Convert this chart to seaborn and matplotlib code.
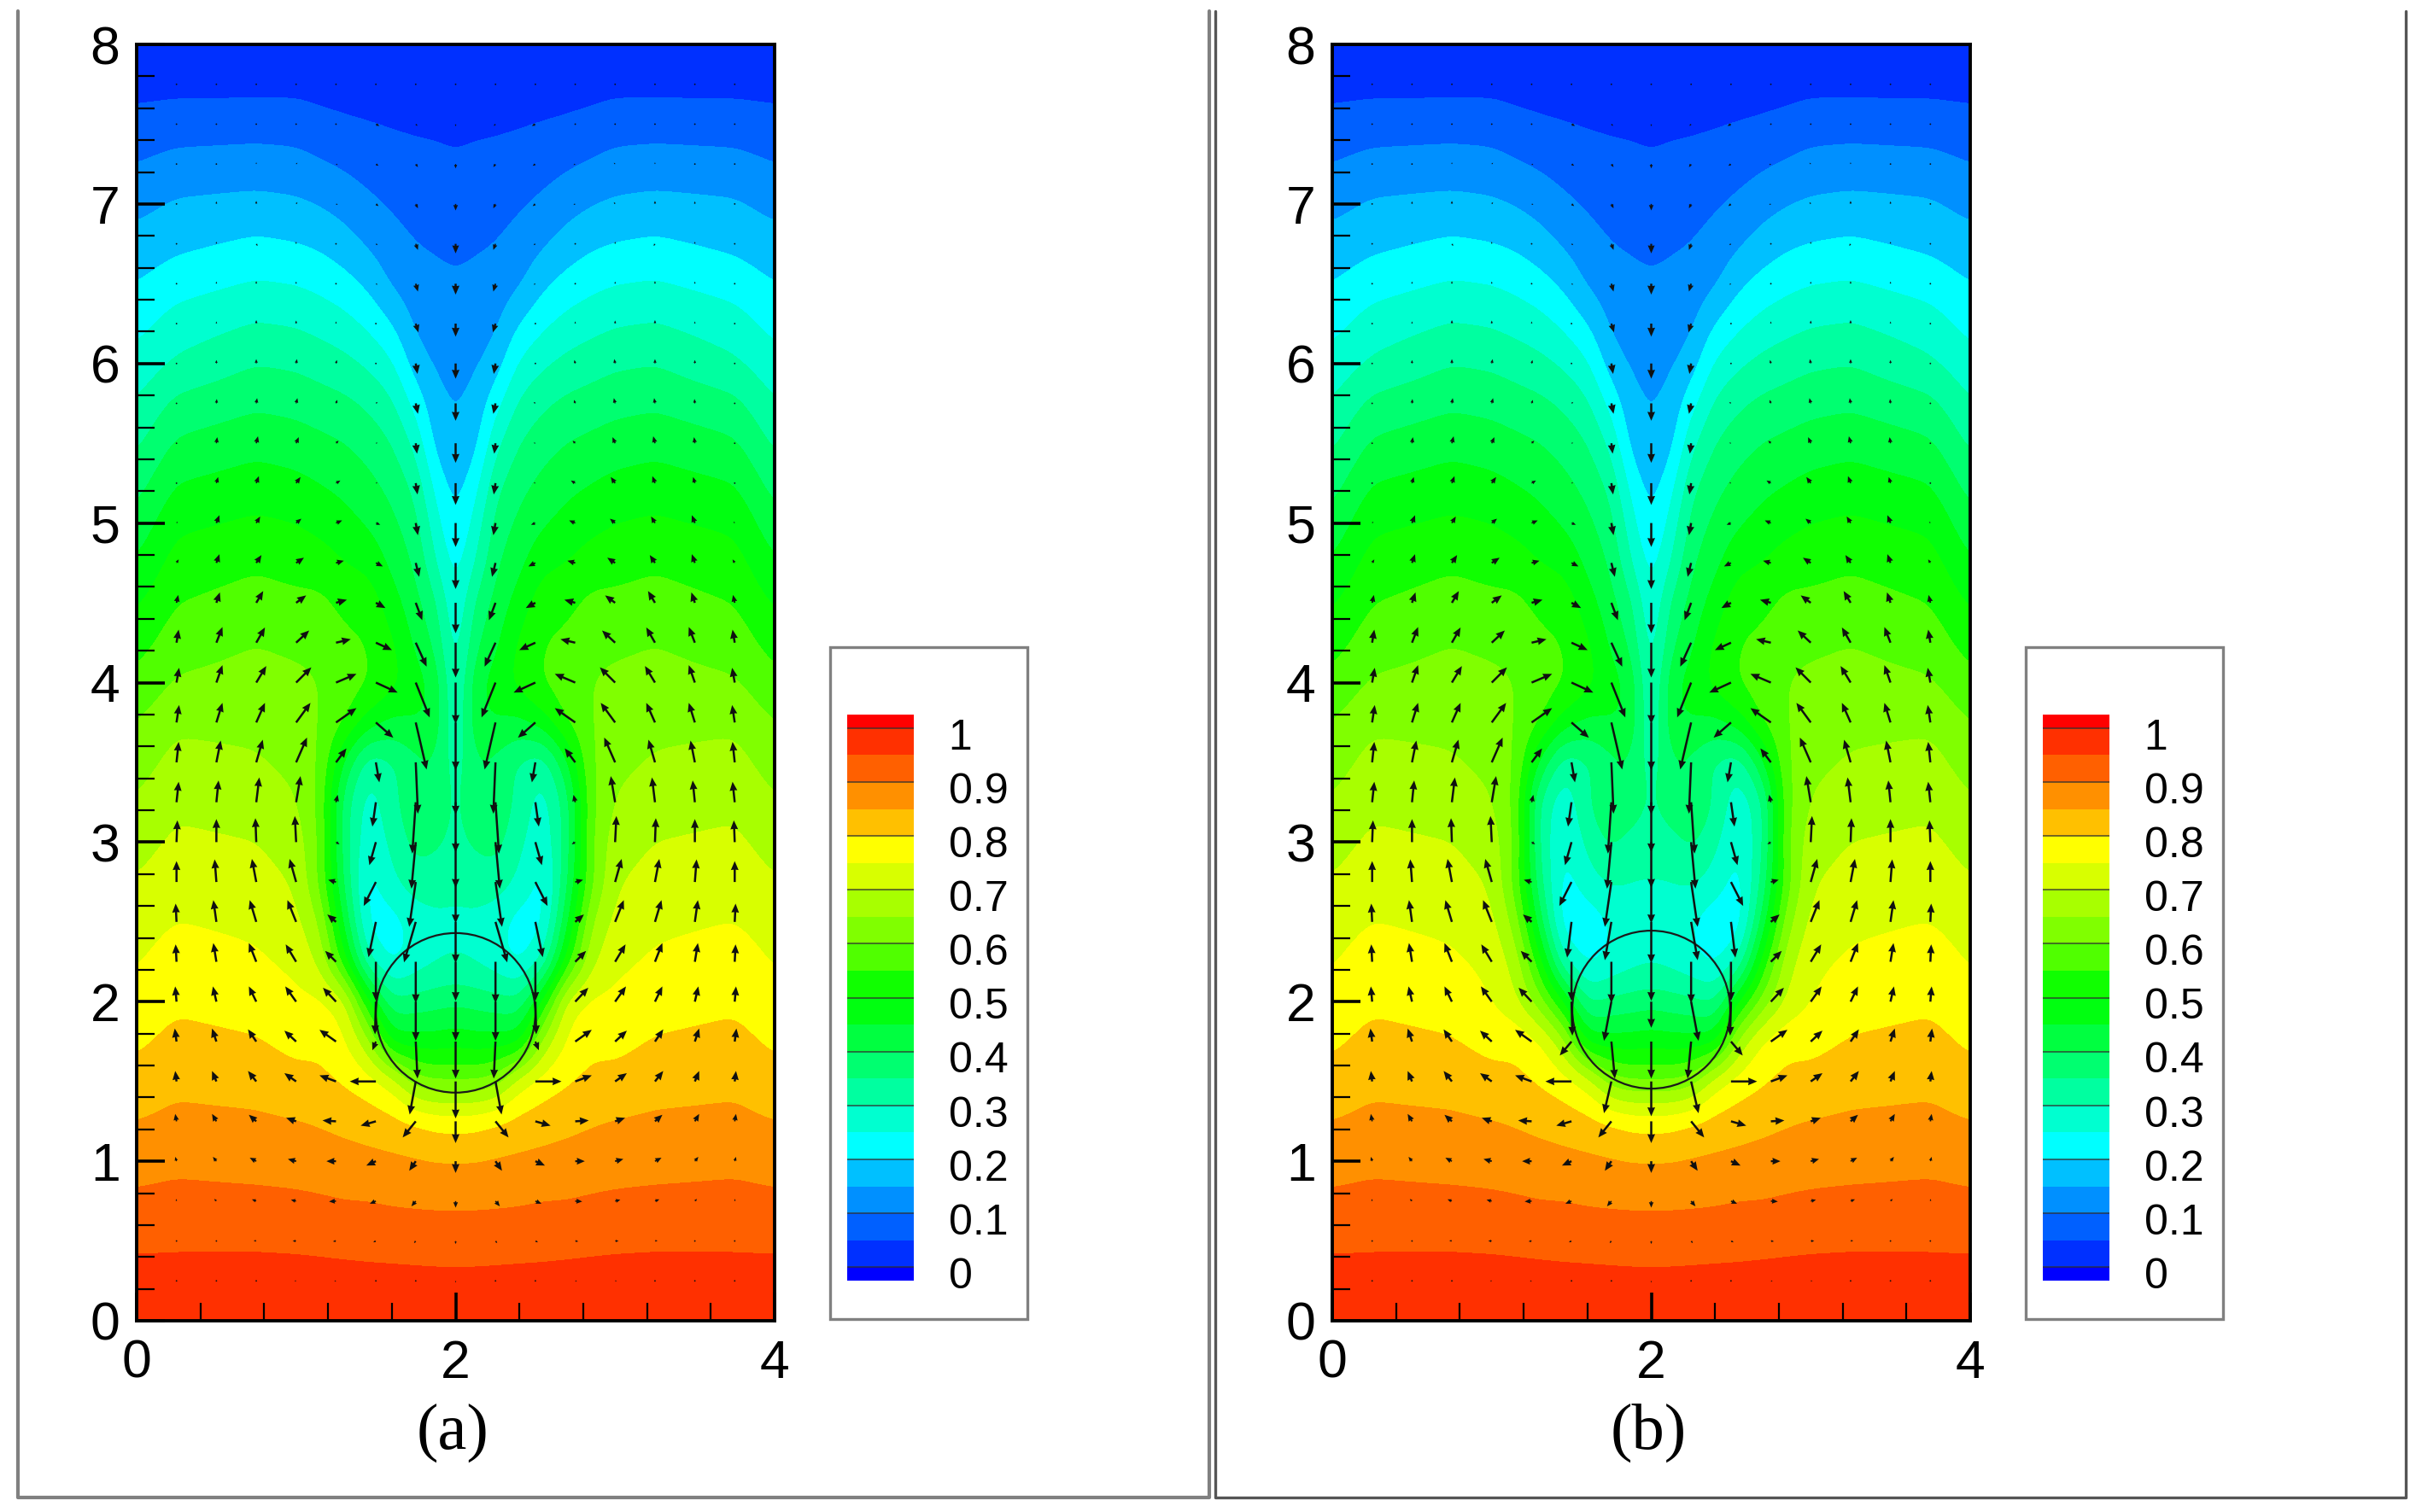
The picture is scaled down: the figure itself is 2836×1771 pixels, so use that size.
import numpy as np
import seaborn as sns
import matplotlib.pyplot as plt
from matplotlib.colors import ListedColormap, BoundaryNorm
from matplotlib.lines import Line2D
from matplotlib.patches import Circle, Rectangle
from matplotlib.ticker import MultipleLocator

W, H = 2836, 1771

# temperature, half domain (x 0..2), y from 8 down to 0
y_rows = [8 - 0.25 * i for i in range(33)]
x_half = [0, 0.25, 0.75, 1.0, 1.15, 1.3, 1.45, 1.6, 1.75, 1.875, 2.0]

t_000 = [.01, .033, .067, .10, .135, .168, .2, .233, .267, .303, .34, .378, .417, .454, .493, .529,
         .564, .6, .628, .655, .68, .704, .725, .746, .768, .79, .82, .85, .88, .91, .94, .97, .99]
t_025 = [.01, .035, .075, .117, .156, .187, .229, .271, .307, .363, .407, .45, .489, .52, .549, .577,
         .605, .64, .667, .688, .71, .73, .749, .778, .79, .815, .838, .862, .888, .915, .942, .97, .99]
t_075 = [.01, .034, .079, .122, .164, .209, .254, .302, .348, .391, .433, .472, .508, .542, .571, .599,
         .618, .637, .655, .679, .70, .72, .738, .758, .78, .803, .83, .858, .882, .912, .942, .971, .99]
t_100 = [.01, .035, .077, .117, .158, .201, .248, .295, .341, .383, .424, .462, .5, .53, .563, .589,
         .612, .62, .635, .655, .675, .695, .715, .737, .762, .785, .815, .852, .88, .908, .94, .97, .99]
t_115 = [.01, .03, .066, .105, .147, .191, .236, .282, .328, .372, .412, .449, .485, .523, .563, .585,
         .60, .60, .60, .59, .60, .59, .65, .69, .76, .79, .81, .845, .875, .905, .938, .968, .99]
t_130 = [.01, .028, .057, .093, .13, .171, .218, .267, .314, .362, .401, .435, .467, .5, .537, .56,
         .58, .555, .44, .37, .37, .39, .44, .52, .73, .76, .795, .835, .87, .90, .935, .967, .99]
t_145 = [.01, .025, .052, .08, .11, .143, .19, .24, .292, .342, .38, .413, .444, .487, .532, .55,
         .555, .48, .31, .27, .26, .22, .23, .30, .51, .67, .775, .825, .865, .90, .932, .966, .99]
t_160 = [.01, .024, .047, .07, .094, .118, .142, .2, .257, .309, .351, .383, .412, .437, .472, .51,
         .52, .435, .34, .33, .31, .29, .22, .23, .36, .47, .735, .815, .86, .895, .93, .965, .99]
t_175 = [.01, .022, .044, .063, .081, .1, .119, .138, .171, .23, .286, .335, .367, .393, .415, .438,
         .47, .45, .385, .40, .37, .33, .27, .27, .37, .47, .62, .80, .855, .893, .928, .964, .99]
t_188 = [.01, .02, .043, .06, .078, .095, .111, .126, .142, .163, .18, .225, .265, .30, .36, .391,
         .44, .44, .40, .41, .36, .32, .29, .29, .38, .47, .60, .785, .85, .892, .926, .963, .99]
t_200 = [.01, .02, .04, .055, .07, .09, .105, .118, .135, .145, .155, .175, .195, .22, .24, .255,
         .27, .28, .31, .32, .33, .31, .29, .30, .39, .48, .60, .78, .85, .892, .926, .963, .99]

# right panel differs around the cold pockets only, columns x = 1.0 .. 2.0
b_rows = {
    3.25: [.655, .59, .33, .26, .34, .42, .40, .33],
    3.0: [.675, .60, .33, .25, .31, .36, .32, .31],
    2.75: [.695, .58, .36, .22, .28, .31, .30, .30],
    2.5: [.715, .63, .42, .21, .21, .25, .27, .28],
    2.25: [.737, .68, .52, .30, .23, .26, .28, .29],
    2.0: [.75, .71, .62, .50, .34, .36, .37, .38],
}

# velocity arrows, left half (x = .25 .. 2), y = 7.75 .. 0.25, in pixels of the zoomed picture
arrow_y = [7.75 - 0.25 * i for i in range(31)]
arrow_x = [0.25 * i for i in range(1, 9)]
arrow_scale = 366.5
arrow_u = [
    [0, 0, 0, 0, 0, 0, 0, 0], [0, 0, 0, 0, 1, 8, 4, 0], [0, 2, 0, 3, 4, 6, 5, 0], [0, 0, 0, 3, 4, 6, 5, 0],
    [1, 0, 3, 0, 0, 4, 5, 0], [1, 0, 0, 0, 1, 4, 5, 0], [2, 0, 0, 0, 0, 2, 6, 0], [1, 0, 0, 2, 2, 2, 4, 0],
    [1, 1, 2, 3, 3, 4, 5, 0], [2, 2, 4, 6, 6, 4, 3, 0], [1, 4, 6, 10, 10, 4, 4, 0], [3, 7, 9, 12, 14, 10, 5, 0],
    [5, 7, 12, 18, 18, 16, 8, 0], [4, 8, 16, 23, 25, 22, 15, 0], [5, 14, 20, 30, 34, 37, 25, 0],
    [6, 14, 23, 35, 47, 50, 32, 0], [6, 14, 20, 33, 47, 40, 25, 0], [5, 10, 15, 25, 24, 8, 5, 0],
    [5, 5, 7, 10, 4, -8, -8, 0], [2, 0, -2, -3, 8, -15, -10, 0], [0, -4, -10, -15, -18, -28, -15, 0],
    [-2, -7, -15, -20, -20, -17, -27, 0], [-2, -7, -17, -24, -25, 0, 0, 0], [-3, -8, -17, -25, -30, -2, 0, 0],
    [-4, -10, -19, -27, -38, -8, 4, 0], [-3, -10, -19, -27, -38, -60, -14, 0], [-3, -10, -17, -23, -31, -35, -30, 0],
    [-3, -8, -15, -19, -22, -22, -15, 0], [-1, -5, -10, -12, -16, -14, -10, 0], [-1, -3, -6, -8, -7, -6, -4, 0],
    [-1, -2, -3, -4, -4, -3, -2, 0],
]
arrow_v = [
    [-1, -1, -1, -1, -1, -1, -1, -2], [1, 1, 1, 1, -1, -4, -4, -5], [1, 3, 4, 3, -2, -4, -7, -10],
    [1, 6, 7, 4, -2, -5, -10, -15], [1, 5, -5, 5, 3, -3, -14, -22], [2, 5, 6, 5, 3, -2, -18, -25],
    [3, 5, 8, 7, 5, 2, -20, -30], [3, 8, 10, 10, 8, 2, -24, -35], [3, 10, 12, 12, 8, 3, -24, -40],
    [2, 14, 16, 14, 6, 1, -24, -45], [1, 14, 16, 14, 6, 1, -26, -50], [3, 18, 15, 10, 6, -4, -28, -55],
    [8, 20, 18, 12, 5, -8, -32, -60], [18, 24, 27, 17, 7, -12, -40, -70], [30, 36, 35, 28, 8, -17, -55, -80],
    [34, 40, 38, 35, 20, -23, -80, -95], [40, 45, 45, 45, 33, -35, -108, -110], [47, 50, 52, 57, 32, -46, -118, -120],
    [47, 50, 57, 60, 17, -56, -118, -115], [50, 53, 55, 60, -5, -53, -107, -105], [48, 52, 53, 53, 5, -55, -103, -95],
    [42, 50, 50, 50, 17, -81, -93, -95], [40, 43, 43, 40, 25, -90, -95, -90], [35, 35, 35, 35, 32, -75, -90, -90],
    [30, 30, 28, 25, 27, -20, -85, -85], [24, 24, 24, 19, 14, 0, -76, -85], [17, 17, 15, 8, 2, -10, -37, -50],
    [10, 10, 8, 5, 0, -10, -22, -27], [5, 5, 4, 3, -1, -6, -12, -15], [2, 2, 1, 0, -1, -3, -5, -7],
    [0, 1, 0, 0, -1, -2, -3, -4],
]
# (y, x, u, v) arrows that differ in panel b
arrow_b = [(2.5, 1.5, -10, -82), (2.5, 1.75, -15, -88), (2.0, 1.5, 2, -78), (2.0, 1.75, -17, -90), (2.0, 2.0, 0, -60),
           (1.75, 1.5, -27, -32), (1.75, 1.75, 8, -85), (1.5, 1.75, -17, -73), (1.5, 2.0, 0, -80)]

band_colors = ['#0000ff', '#0030ff', '#0060ff', '#0090ff', '#00c0ff', '#00ffff', '#00ffd0', '#00ffa0', '#00ff70',
               '#00ff40', '#00ff10', '#10ff00', '#50ff00', '#80ff00', '#a8ff00', '#d8ff00', '#ffff00', '#ffc000',
               '#ff9000', '#ff6000', '#ff3000', '#ff0000']
levels = [-0.5] + [0.05 * i for i in range(21)] + [1.5]
legend_labels = ['1', '0.9', '0.8', '0.7', '0.6', '0.5', '0.4', '0.3', '0.2', '0.1', '0']
legend_values = [1, .9, .8, .7, .6, .5, .4, .3, .2, .1, 0]

circle_a = (2.0, 1.93, 0.5)
circle_b = (2.0, 1.95, 0.495)

sns.set_theme(style='white')
plt.rcParams['font.family'] = ['Liberation Sans', 'DejaVu Sans']
palette = sns.color_palette(band_colors)
cmap = ListedColormap(palette)
norm = BoundaryNorm(levels, cmap.N)


def box(l, t, r, b):
    return [l / W, 1 - b / H, (r - l) / W, (b - t) / H]


def frame_line(fig, xs, ys, color, lw):
    fig.add_artist(Line2D([x / W for x in xs], [1 - y / H for y in ys], color=color, lw=lw))


def blur(arr, sigma, axis):
    # soften the corners of the read grid when contouring
    r = int(3 * sigma)
    k = np.exp(-0.5 * (np.arange(-r, r + 1) / sigma) ** 2)
    k /= k.sum()
    pad = [(0, 0), (0, 0)]
    pad[axis] = (r, r)
    padded = np.pad(arr, pad, mode='edge')
    return np.apply_along_axis(lambda m: np.convolve(m, k, mode='valid'), axis, padded)


def fine_field(field):
    x_full = np.array(x_half + [4 - x for x in x_half[-2::-1]])
    full = np.hstack([field, field[:, -2::-1]])
    step = 0.0125
    xf = np.arange(0, 4 + step / 2, step)
    yf = np.arange(0, 8 + step / 2, step)
    ys = np.array(y_rows)[::-1]
    by_x = np.array([np.interp(xf, x_full, row) for row in full[::-1]])
    zf = np.array([np.interp(yf, ys, col) for col in by_x.T]).T
    zf = blur(zf, 0.05 / step, 1)
    zf = blur(zf, 0.09 / step, 0)
    return xf, yf, zf


def draw_panel(fig, off, field, u, v, circ, label):
    ax = fig.add_axes(box(160 + off, 52, 907 + off, 1547))
    xf, yf, zf = fine_field(field)
    ax.contourf(xf, yf, zf, levels=levels, cmap=cmap, norm=norm)

    ax_x = np.array(arrow_x + [4 - x for x in arrow_x[-2::-1]])
    ax_u = np.hstack([u, -u[:, -2::-1]])
    ax_v = np.hstack([v, v[:, -2::-1]])
    qx, qy = np.meshgrid(ax_x, np.array(arrow_y))
    ax.quiver(qx, qy, ax_u, ax_v, angles='xy', scale_units='xy', scale=arrow_scale, pivot='tail',
              units='dots', width=2.5, headwidth=3.6, headlength=4.2, headaxislength=4.0,
              minshaft=1.2, minlength=0.8, color='#101010', zorder=4)
    ax.add_patch(Circle(circ[:2], circ[2], fill=False, ec='#1a1a1a', lw=1.6, zorder=3))

    ax.set_xlim(0, 4)
    ax.set_ylim(0, 8)
    ax.xaxis.set_major_locator(MultipleLocator(2))
    ax.xaxis.set_minor_locator(MultipleLocator(0.4))
    ax.yaxis.set_major_locator(MultipleLocator(1))
    ax.yaxis.set_minor_locator(MultipleLocator(0.2))
    ax.tick_params(which='major', direction='in', length=24, width=2.6, color='black', labelsize=45,
                   labelcolor='black', left=True, bottom=True)
    ax.tick_params(axis='y', which='major', pad=14)
    ax.tick_params(axis='x', which='major', pad=15)
    ax.tick_params(which='minor', direction='in', length=15, width=1.6, color='black', left=True, bottom=True)
    for s in ax.spines.values():
        s.set_visible(True)
        s.set_color('black')
        s.set_linewidth(2.8)
    ax.set_axisbelow(False)

    fig.text((530 + off) / W, 1 - 1678 / H, label, family='Liberation Serif', fontsize=55,
             ha='center', va='center', color='black')

    # legend box
    fig.add_artist(Rectangle((972 / W + off / W, 1 - 1545 / H), 231 / W, 787 / H, transform=fig.transFigure,
                             fill=False, ec='#808080', lw=2.4))
    cax = fig.add_axes(box(992 + off, 837, 1070 + off, 1500))
    # 42 slices of .025, top to bottom
    slices = np.array([[1.025 - 0.025 * (i + 0.5)] for i in range(42)])
    sns.heatmap(slices, cmap=cmap, norm=norm, cbar=False, ax=cax, xticklabels=False, yticklabels=False)
    for val, txt in zip(legend_values, legend_labels):
        row = (1.025 - val) / 0.025
        cax.hlines(row, 0, 1, color='#303030', lw=1.2, alpha=0.8)
        cax.text(1.52, row + 0.75, txt, fontsize=36, va='center', ha='left', color='black',
                 transform=cax.get_yaxis_transform())
    return ax


def build_field(columns):
    return np.array(columns, dtype=float).T


field_a = build_field([t_000, t_025, t_075, t_100, t_115, t_130, t_145, t_160, t_175, t_188, t_200])
field_b = field_a.copy()
for y_val, row_vals in b_rows.items():
    field_b[y_rows.index(y_val), 3:] = row_vals

u_a = np.array(arrow_u, dtype=float)
v_a = np.array(arrow_v, dtype=float)
u_b = u_a.copy()
v_b = v_a.copy()
for y_val, x_val, du, dv in arrow_b:
    u_b[arrow_y.index(y_val), arrow_x.index(x_val)] = du
    v_b[arrow_y.index(y_val), arrow_x.index(x_val)] = dv

fig = plt.figure(figsize=(W / 100, H / 100), dpi=100, facecolor='white')
draw_panel(fig, 0, field_a, u_a, v_a, circle_a, '(a)')
draw_panel(fig, 1400, field_b, u_b, v_b, circle_b, '(b)')

frame_line(fig, [21, 21, 1416, 1416], [13, 1754, 1754, 13], '#808080', 3)
frame_line(fig, [1423, 1423, 2817, 2817], [13, 1754, 1754, 13], '#555555', 2.4)

fig.savefig('out.png', dpi=100)
